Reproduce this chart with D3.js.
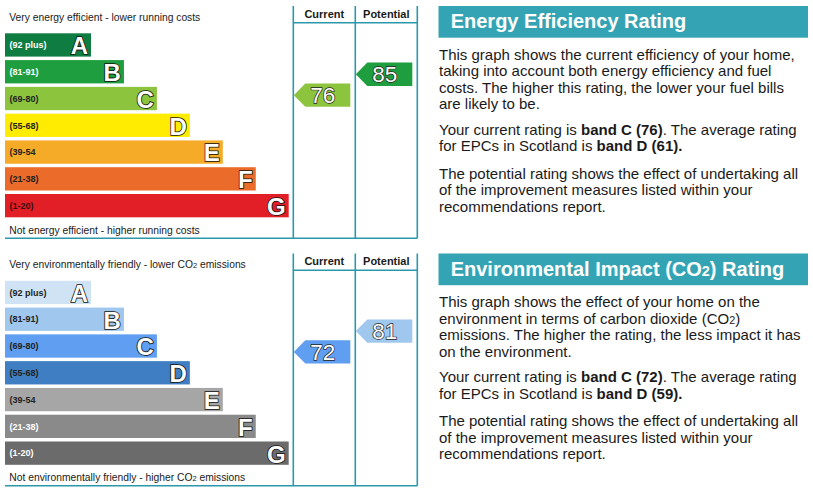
<!DOCTYPE html>
<html>
<head>
<meta charset="utf-8">
<script src="https://cdn.jsdelivr.net/npm/d3@7"></script>
<style>
  body { margin: 0; background: #fff; }
  svg { display: block; font-family: "Liberation Sans", Arial, sans-serif; }
</style>
</head>
<body>
<div id="wrapper"></div>
<script>
// Data
const bandLetters = ["A", "B", "C", "D", "E", "F", "G"];
const bandRanges = ["(92 plus)", "(81-91)", "(69-80)", "(55-68)", "(39-54", "(21-38)", "(1-20)"];
const ratingColumns = ["Current", "Potential"];
const energyRatings = [76, 85];
const co2Ratings = [72, 81];

const energyText = {
    title: "Energy Efficiency Rating",
    top: "Very energy efficient - lower running costs",
    bottom: "Not energy efficient - higher running costs",
    paragraphs: [
        ["This graph shows the current efficiency of your home,",
         "taking into account both energy efficiency and fuel",
         "costs. The higher this rating, the lower your fuel bills",
         "are likely to be."],
        ["Your current rating is **band C (76)**. The average rating",
         "for EPCs in Scotland is **band D (61).**"],
        ["The potential rating shows the effect of undertaking all",
         "of the improvement measures listed within your",
         "recommendations report."]
    ]
};
const co2Text = {
    title: "Environmental Impact (CO~2~) Rating",
    top: "Very environmentally friendly - lower CO~2~ emissions",
    bottom: "Not environmentally friendly - higher CO~2~ emissions",
    paragraphs: [
        ["This graph shows the effect of your home on the",
         "environment in terms of carbon dioxide (CO~2~)",
         "emissions. The higher the rating, the less impact it has",
         "on the environment."],
        ["Your current rating is **band C (72)**. The average rating",
         "for EPCs in Scotland is **band D (59).**"],
        ["The potential rating shows the effect of undertaking all",
         "of the improvement measures listed within your",
         "recommendations report."]
    ]
};

// Styles
const energyColors = ["#0f7d42", "#1e9e3e", "#8cc43e", "#ffec00", "#f5ab27", "#eb6b2a", "#e21e27"];
const energyLabelColors = ["#fff", "#fff", "#222", "#222", "#222", "#222", "#3a1010"];
const co2Colors = ["#cfe3f5", "#a0c7ee", "#5f9ef0", "#3f7ec2", "#a6a6a6", "#8a8a8a", "#6b6b6b"];
const co2LabelColors = ["#222", "#222", "#222", "#222", "#222", "#fff", "#fff"];
const LINE_COLOR = "#2a98aa";
const HEADER_COLOR = "#34a4b4";
const TEXT_COLOR = "#1a1a1a";

const WIDTH = 813;
const HEIGHT = 492;
const PANEL_OFFSET = 247.5;

const svg = d3.select("#wrapper")
    .append("svg")
    .attr("width", WIDTH)
    .attr("height", HEIGHT);

// Scales shared by both panels
const yBand = d3.scaleBand()
    .domain(bandLetters)
    .range([33.3, 217.3])
    .paddingInner(0.13)
    .paddingOuter(0);
const barWidth = d3.scaleLinear()
    .domain([0, bandLetters.length - 1])
    .range([86, 283.7]);
const xColumn = d3.scaleBand()
    .domain(ratingColumns)
    .range([293.3, 417.3]);
const yRating = d3.scaleLinear()
    .domain([0, 100])
    .range([271.8, 39.4]);

const BAR_X = 5;
const ARROW_H = 23.3;
const ARROW_TIP = 11.5;

// write "**bold**" and "~small~" runs as tspans
function richText(sel, str, size) {
    const parts = str.split(/(\*\*[^*]+\*\*|~[^~]+~)/).filter(s => s.length);
    parts.forEach(p => {
        if (p.startsWith("**")) {
            sel.append("tspan").attr("font-weight", "bold").text(p.slice(2, -2));
        } else if (p.startsWith("~")) {
            sel.append("tspan").attr("font-size", size * 0.72).text(p.slice(1, -1));
        } else {
            sel.append("tspan").text(p);
        }
    });
}

function drawPanel(g, ratings, colors, labelColors, text) {
    // bars
    const bars = g.append("g").selectAll("g")
        .data(bandLetters)
        .join("g");
    bars.append("rect")
        .attr("x", BAR_X)
        .attr("y", d => yBand(d))
        .attr("width", (d, i) => barWidth(i))
        .attr("height", yBand.bandwidth())
        .attr("fill", (d, i) => colors[i]);
    bars.append("text")
        .attr("x", BAR_X + 4.5)
        .attr("y", d => yBand(d) + yBand.bandwidth() / 2 + 3.2)
        .attr("font-size", 9)
        .attr("font-weight", "bold")
        .attr("fill", (d, i) => labelColors[i])
        .text((d, i) => bandRanges[i]);
    bars.append("text")
        .attr("x", (d, i) => BAR_X + barWidth(i) - 3)
        .attr("y", d => yBand(d) + yBand.bandwidth() - 2.3)
        .attr("text-anchor", "end")
        .attr("font-size", 24)
        .attr("font-weight", "bold")
        .attr("fill", "#fff")
        .attr("stroke", "#111")
        .attr("stroke-width", 1.6)
        .attr("paint-order", "stroke")
        .text(d => d);

    // frame
    const [x0, x1] = xColumn.range();
    g.append("line")
        .attr("x1", BAR_X).attr("x2", x1)
        .attr("y1", 238.3).attr("y2", 238.3)
        .attr("stroke", LINE_COLOR).attr("stroke-width", 1.6);
    g.append("line")
        .attr("x1", x0).attr("x2", x1)
        .attr("y1", 22.7).attr("y2", 22.7)
        .attr("stroke", LINE_COLOR).attr("stroke-width", 1.6);
    g.append("g").selectAll("line")
        .data([x0, x0 + xColumn.bandwidth(), x1])
        .join("line")
        .attr("x1", d => d).attr("x2", d => d)
        .attr("y1", 6).attr("y2", 238.3)
        .attr("stroke", LINE_COLOR).attr("stroke-width", 1.6);

    g.append("g").selectAll("text")
        .data(ratingColumns)
        .join("text")
        .attr("x", d => xColumn(d) + xColumn.bandwidth() / 2)
        .attr("y", 17.5)
        .attr("text-anchor", "middle")
        .attr("font-size", 11)
        .attr("font-weight", "bold")
        .attr("fill", TEXT_COLOR)
        .text(d => d);

    // top and bottom captions
    richText(g.append("text")
        .attr("x", 9.3).attr("y", 20.8)
        .attr("font-size", 10.3).attr("fill", TEXT_COLOR), text.top, 10.3);
    richText(g.append("text")
        .attr("x", 9.3).attr("y", 233.6)
        .attr("font-size", 10.3).attr("fill", TEXT_COLOR), text.bottom, 10.3);

    // rating arrows
    const bandOf = v => v >= 92 ? 0 : v >= 81 ? 1 : v >= 69 ? 2 : v >= 55 ? 3 : v >= 39 ? 4 : v >= 21 ? 5 : 6;
    const arrows = g.append("g").selectAll("g")
        .data(ratingColumns.map((c, i) => ({ column: c, value: ratings[i] })))
        .join("g");
    arrows.append("path")
        .attr("d", d => {
            const left = xColumn(d.column) + 0.5;
            const right = xColumn(d.column) + xColumn.bandwidth() - 5;
            const cy = yRating(d.value);
            const p = d3.path();
            p.moveTo(left, cy);
            p.lineTo(left + ARROW_TIP, cy - ARROW_H / 2);
            p.lineTo(right, cy - ARROW_H / 2);
            p.lineTo(right, cy + ARROW_H / 2);
            p.lineTo(left + ARROW_TIP, cy + ARROW_H / 2);
            p.closePath();
            return p.toString();
        })
        .attr("fill", d => colors[bandOf(d.value)]);
    arrows.append("text")
        .attr("x", d => xColumn(d.column) + xColumn.bandwidth() / 2 - 1.5)
        .attr("y", d => yRating(d.value) + 8)
        .attr("text-anchor", "middle")
        .attr("font-size", 22.5)
        .attr("fill", "#fff")
        .attr("stroke", "#222")
        .attr("stroke-width", 1.4)
        .attr("paint-order", "stroke")
        .text(d => d.value);

    // explanation on the right
    g.append("rect")
        .attr("x", 438.5).attr("y", 6)
        .attr("width", 369.5).attr("height", 31.7)
        .attr("fill", HEADER_COLOR);
    richText(g.append("text")
        .attr("x", 450.7).attr("y", 28.3)
        .attr("font-size", 20)
        .attr("font-weight", "bold")
        .attr("fill", "#fff"), text.title, 20);

    const paraStarts = [59.5, 134.5, 178.5];
    const LINE_STEP = 16.6;
    text.paragraphs.forEach((lines, pi) => {
        lines.forEach((line, li) => {
            richText(g.append("text")
                .attr("x", 439)
                .attr("y", paraStarts[pi] + li * LINE_STEP)
                .attr("font-size", 15)
                .attr("fill", TEXT_COLOR), line, 15);
        });
    });
}

drawPanel(svg.append("g"), energyRatings, energyColors, energyLabelColors, energyText);
drawPanel(svg.append("g").attr("transform", `translate(0, ${PANEL_OFFSET})`),
    co2Ratings, co2Colors, co2LabelColors, co2Text);
</script>
</body>
</html>
